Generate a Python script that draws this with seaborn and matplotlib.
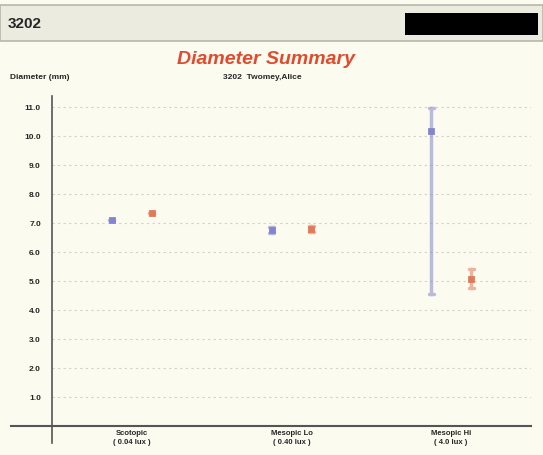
import seaborn as sns
import numpy as np
import pandas as pd
import matplotlib.pyplot as plt
from matplotlib.patches import Rectangle

categories = ["Scotopic\n( 0.04 lux )", "Mesopic Lo\n( 0.40 lux )", "Mesopic Hi\n( 4.0 lux )"]
eyes = ["OD", "OS"]
# low / mean / high diameter (mm) per condition
od_low = [7.10, 6.65, 4.55]
od_mid = [7.10, 6.76, 10.17]
od_high = [7.10, 6.87, 10.97]
os_low = [7.34, 6.68, 4.75]
os_mid = [7.34, 6.78, 5.07]
os_high = [7.34, 6.88, 5.40]
yticks = [1.0, 2.0, 3.0, 4.0, 5.0, 6.0, 7.0, 8.0, 9.0, 10.0, 11.0]

rows = []
for eye, lo, mid, hi in [("OD", od_low, od_mid, od_high), ("OS", os_low, os_mid, os_high)]:
    for c, a, b, d in zip(categories, lo, mid, hi):
        for v in (a, b, d):
            rows.append({"cond": c, "eye": eye, "diam": v})
df = pd.DataFrame(rows)

sns.set_style('white')
plt.rcParams['font.family'] = ['Liberation Sans', 'DejaVu Sans']
bg = '#fbfbf0'
fig = plt.figure(figsize=(5.43, 4.55), dpi=100, facecolor=bg)
W, H = 543, 455

# header bar
fig.patches.append(Rectangle((0, 1 - 41 / H), 1, 36 / H, transform=fig.transFigure,
                             facecolor='#ebebdf', edgecolor='#b8b8aa', lw=1.2))
fig.patches.append(Rectangle((405 / W, 1 - 35 / H), 133 / W, 22 / H, transform=fig.transFigure,
                             facecolor='black', edgecolor='none'))
fig.text(8 / W, 1 - 24 / H, "3202", fontsize=11, fontweight='bold', va='center')
fig.text(266 / W, 1 - 60 / H, "Diameter Summary", fontsize=14, fontweight='bold',
         style='italic', color='#e24a2e', ha='center', va='center')
fig.text(262 / W, 1 - 77 / H, "3202  Twomey,Alice", fontsize=6, fontweight='bold',
         ha='center', va='center')
fig.text(10 / W, 1 - 77 / H, "Diameter (mm)", fontsize=6, fontweight='bold', va='center')

ax = fig.add_axes([52 / W, 29 / H, 479 / W, 330 / H], facecolor=bg)
sns.pointplot(data=df, x='cond', y='diam', hue='eye', order=categories, hue_order=eyes,
              palette=['#8585cf', '#e3785a'], estimator='median', errorbar=('pi', 100),
              dodge=0.25, linestyle='none', marker='s', markersize=3.2, capsize=0.03,
              err_kws={'linewidth': 2.5, 'alpha': 0.55}, legend=False, ax=ax)

ax.set_xlim(-0.5, 2.5)
ax.set_ylim(0, 11.38)
ax.set_yticks(yticks)
ax.set_yticklabels([f"{v:.1f}" for v in yticks], fontsize=6, fontweight='bold')
ax.yaxis.grid(True, linestyle=(0, (2, 3)), color='#d2d2c8', linewidth=0.8)
ax.tick_params(axis='y', direction='out', length=6, width=1.2, color='#555555', pad=2)
ax.set_xticks([-0.5, 0.5, 1.5, 2.5])
ax.set_xticklabels([])
ax.set_xticks([0, 1, 2], minor=True)
ax.set_xticklabels(categories, minor=True, fontsize=5.5, fontweight='bold', linespacing=1.3)
ax.tick_params(axis='x', which='major', direction='out', length=11, width=1.2, color='#555555')
ax.tick_params(axis='x', which='minor', length=0, pad=3)
ax.set_xlabel('')
ax.set_ylabel('')
for s in ['top', 'right']:
    ax.spines[s].set_visible(False)
ax.spines['left'].set_color('#555555')
ax.spines['left'].set_linewidth(1.2)
ax.spines['bottom'].set_color('#555555')
ax.spines['bottom'].set_linewidth(1.5)
ax.spines['bottom'].set_bounds(-0.755, 2.5)
ax.spines['left'].set_bounds(-0.6, 11.38)

fig.savefig('out.png', dpi=100, facecolor=bg)
